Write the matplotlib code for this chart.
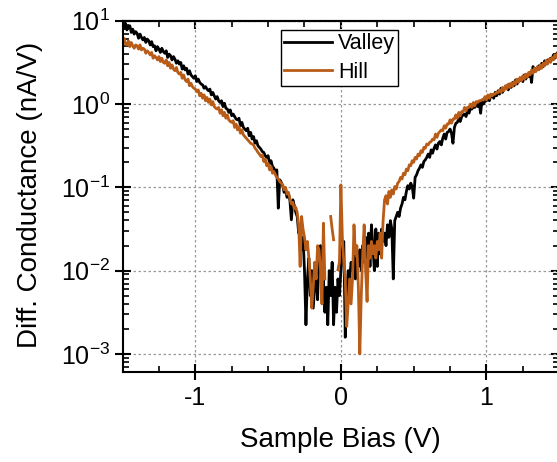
import numpy as np
import matplotlib
matplotlib.use("Agg")
import matplotlib.pyplot as plt
from matplotlib.ticker import LogLocator, MultipleLocator, NullFormatter

# ---------------- data ----------------
bias_start, bias_step = -1.50, 0.01   # sample bias grid (V)

# log10 of differential conductance (nA/V), Valley (black)
valley_log10 = [
    1.00, 0.91, 0.97, 0.89, 0.93, 0.94, 0.86, 0.90, 0.84, 0.87,      # -1.50
    0.85, 0.79, 0.84, 0.80, 0.77, 0.80, 0.74, 0.78, 0.76, 0.71,      # -1.40
    0.75, 0.69, 0.70, 0.64, 0.69, 0.66, 0.62, 0.67, 0.63, 0.61,      # -1.30
    0.64, 0.56, 0.60, 0.58, 0.53, 0.57, 0.54, 0.49, 0.52, 0.48,      # -1.20
    0.50, 0.42, 0.46, 0.41, 0.43, 0.36, 0.40, 0.35, 0.33, 0.31,      # -1.10
    0.34, 0.27, 0.30, 0.26, 0.24, 0.23, 0.19, 0.21, 0.18, 0.16,      # -1.00
    0.18, 0.11, 0.14, 0.10, 0.06, 0.09, 0.04, 0.02, 0.04, -0.03,     # -0.90
    0.01, -0.05, -0.06, -0.10, -0.07, -0.14, -0.12, -0.15, -0.18, -0.19,  # -0.80
    -0.17, -0.26, -0.22, -0.28, -0.30, -0.32, -0.29, -0.38, -0.34, -0.42,  # -0.70
    -0.39, -0.47, -0.44, -0.50, -0.52, -0.54, -0.57, -0.58, -0.62, -0.64,  # -0.60
    -0.62, -0.71, -0.68, -0.75, -0.77, -0.81, -0.79, -1.25, -0.91, -0.94,  # -0.50
    -0.98, -1.06, -1.02, -1.12, -1.08, -1.16, -1.39, -1.15, -1.22, -1.30,  # -0.40
    -1.35, -1.55, -1.45, -1.75, -1.60, -2.00, -2.65, -2.10, -1.85, -2.30,  # -0.30
    -2.00, -2.45, -2.20, -1.95, -2.35, -1.75, -1.70, -2.30, -2.10, -2.50,  # -0.20
    -2.20, -2.65, -2.00, -2.30, -1.90, -2.65, -2.20, -2.50, -2.10, -2.30,  # -0.10
    -2.00, -1.75, -1.65, -2.80, -2.30, -2.00, -2.10, -1.90, -2.00, -1.80,  # 0.00
    -2.10, -1.85, -1.95, -1.75, -2.00, -1.70, -1.90, -1.60, -1.85, -1.55,  # 0.10
    -1.95, -1.45, -1.70, -2.00, -1.50, -1.95, -1.55, -1.80, -1.50, -1.65,  # 0.20
    -1.55, -1.70, -1.45, -1.60, -1.40, -1.50, -2.10, -1.40, -1.35, -1.30,  # 0.30
    -1.35, -1.25, -1.20, -1.12, -1.15, -1.05, -0.98, -1.02, -0.95, -0.99,  # 0.40
    -1.13, -0.88, -0.85, -0.80, -0.77, -0.73, -0.76, -0.69, -0.67, -0.64,  # 0.50
    -0.60, -0.64, -0.55, -0.59, -0.53, -0.49, -0.54, -0.47, -0.45, -0.49,  # 0.60
    -0.41, -0.36, -0.42, -0.34, -0.33, -0.30, -0.35, -0.47, -0.28, -0.23,  # 0.70
    -0.22, -0.17, -0.21, -0.15, -0.13, -0.12, -0.15, -0.07, -0.11, -0.05,  # 0.80
    -0.06, -0.03, -0.04, 0.01, -0.03, 0.02, -0.11, 0.05, 0.00, 0.04,      # 0.90
    0.04, 0.07, 0.04, 0.10, 0.11, 0.07, 0.14, 0.10, 0.16, 0.12,          # 1.00
    0.19, 0.14, 0.18, 0.19, 0.22, 0.17, 0.24, 0.20, 0.26, 0.22,          # 1.10
    0.29, 0.24, 0.28, 0.28, 0.31, 0.27, 0.35, 0.30, 0.34, 0.33,          # 1.20
    0.38, 0.26, 0.45, 0.39, 0.43, 0.42, 0.46, 0.43, 0.49, 0.45,          # 1.30
    0.52, 0.48, 0.53, 0.52, 0.55, 0.53, 0.59, 0.55, 0.60, 0.62,          # 1.40
    0.64,                                                                # 1.50
]

# log10 of differential conductance (nA/V), Hill (orange); nan = gap
nan = float("nan")
hill_log10 = [
    0.73, 0.79, 0.72, 0.71, 0.76, 0.69, 0.74, 0.70, 0.67, 0.71,      # -1.50
    0.70, 0.66, 0.71, 0.65, 0.67, 0.66, 0.61, 0.64, 0.62, 0.59,      # -1.40
    0.62, 0.55, 0.58, 0.56, 0.53, 0.57, 0.51, 0.55, 0.50, 0.49,      # -1.30
    0.53, 0.46, 0.50, 0.43, 0.47, 0.42, 0.40, 0.44, 0.38, 0.36,      # -1.20
    0.38, 0.31, 0.35, 0.29, 0.27, 0.30, 0.22, 0.25, 0.21, 0.19,      # -1.10
    0.18, 0.15, 0.17, 0.10, 0.13, 0.07, 0.11, 0.04, 0.08, 0.02,      # -1.00
    0.06, -0.01, 0.03, -0.03, -0.05, -0.06, -0.04, -0.11, -0.07, -0.14,  # -0.90
    -0.10, -0.17, -0.13, -0.19, -0.21, -0.22, -0.20, -0.28, -0.24, -0.31,  # -0.80
    -0.27, -0.35, -0.31, -0.37, -0.39, -0.41, -0.43, -0.45, -0.47, -0.48,  # -0.70
    -0.49, -0.53, -0.55, -0.58, -0.60, -0.63, -0.61, -0.69, -0.66, -0.74,  # -0.60
    -0.71, -0.79, -0.75, -0.83, -0.81, -0.85, -0.88, -0.90, -0.93, -0.95,  # -0.50
    -0.97, -1.03, -1.00, -1.08, -1.06, -1.14, -1.20, -1.18, -1.26, -1.24,  # -0.40
    -1.30, -1.45, -1.95, -1.35, -1.50, -1.60, -1.75, -1.65, -1.85, -2.10,  # -0.30
    -2.45, -2.20, -1.90, -2.10, -1.70, -1.75, -2.00, -2.40, -1.43, -2.10,  # -0.20
    nan, nan, nan, -1.35, -1.50, -1.63, nan, nan, -1.99, -1.90,            # -0.10
    -0.97, -1.60, -1.90, -2.10, -2.67, -2.40, -2.10, -2.40, -2.10, -1.45,  # 0.00
    -1.80, -1.70, -2.20, -3.00, -2.30, -1.80, -1.45, -2.00, -2.37, -1.70,  # 0.10
    -1.85, -1.65, -1.80, -1.70, -1.85, -1.65, -1.75, -1.55, -1.85, -1.40,  # 0.20
    -1.15, -1.10, -1.20, -1.05, -1.12, -1.03, -1.08, -0.99, -1.02, -0.95,  # 0.30
    -0.93, -0.88, -0.90, -0.83, -0.85, -0.78, -0.80, -0.73, -0.74, -0.68,  # 0.40
    -0.70, -0.64, -0.66, -0.60, -0.62, -0.56, -0.58, -0.52, -0.53, -0.48,  # 0.50
    -0.49, -0.46, -0.45, -0.42, -0.43, -0.36, -0.40, -0.35, -0.33, -0.31,  # 0.60
    -0.32, -0.26, -0.29, -0.24, -0.24, -0.19, -0.23, -0.18, -0.18, -0.13,  # 0.70
    -0.17, -0.10, -0.14, -0.09, -0.09, -0.04, -0.08, -0.04, -0.04, 0.00,  # 0.80
    -0.04, 0.02, -0.02, 0.03, 0.02, 0.04, 0.04, 0.05, 0.05, 0.09,         # 0.90
    0.05, 0.11, 0.07, 0.12, 0.10, 0.12, 0.12, 0.14, 0.14, 0.17,          # 1.00
    0.14, 0.20, 0.16, 0.22, 0.18, 0.24, 0.20, 0.25, 0.21, 0.27,          # 1.10
    0.24, 0.30, 0.26, 0.32, 0.28, 0.34, 0.30, 0.36, 0.32, 0.38,          # 1.20
    0.35, 0.41, 0.37, 0.43, 0.39, 0.45, 0.41, 0.47, 0.43, 0.49,          # 1.30
    0.46, 0.52, 0.48, 0.54, 0.50, 0.56, 0.53, 0.59, 0.56, 0.61,          # 1.40
    0.63,                                                                # 1.50
]

series_labels = ["Valley", "Hill"]
series_colors = ["#000000", "#B85C18"]
x_ticks = [-1, 0, 1]
x_ticklabels = ["-1", "0", "1"]
x_label = "Sample Bias (V)"
y_label = "Diff. Conductance (nA/V)"

# ---------------- figure ----------------
plt.rcParams["font.family"] = ["Liberation Sans", "DejaVu Sans"]
plt.rcParams["mathtext.fontset"] = "custom"
plt.rcParams["mathtext.rm"] = "Liberation Sans"
plt.rcParams["mathtext.it"] = "Liberation Sans:italic"
plt.rcParams["mathtext.default"] = "regular"

bias = bias_start + bias_step * np.arange(len(valley_log10))
valley = 10.0 ** np.array(valley_log10)
hill = 10.0 ** np.array(hill_log10)

fig = plt.figure(figsize=(5.57, 4.62), dpi=100)
ax = fig.add_axes([0.220, 0.194, 0.784, 0.761])

ax.plot(bias, valley, color=series_colors[0], lw=2.0, label=series_labels[0])
ax.plot(bias, hill, color=series_colors[1], lw=2.0, label=series_labels[1])

ax.set_yscale("log")
ax.set_xlim(-1.5, 1.5)
ax.set_ylim(6e-4, 10)

ax.set_xticks(x_ticks)
ax.set_xticklabels(x_ticklabels)
ax.xaxis.set_minor_locator(MultipleLocator(0.25))
ax.yaxis.set_major_locator(LogLocator(base=10, numticks=10))
ax.yaxis.set_minor_locator(LogLocator(base=10, subs=np.arange(2, 10), numticks=10))
ax.yaxis.set_minor_formatter(NullFormatter())

ax.tick_params(which="major", direction="inout", length=12, width=1.5,
               labelsize=18, pad=3)
ax.tick_params(which="minor", direction="in", length=4, width=1.2)
ax.tick_params(axis="x", which="major", pad=4)

# top / right inward ticks
secx = ax.secondary_xaxis("top")
secx.set_xticks(x_ticks)
secx.xaxis.set_minor_locator(MultipleLocator(0.25))
secx.tick_params(which="major", direction="in", length=6, width=1.5, labeltop=False)
secx.tick_params(which="minor", direction="in", length=4, width=1.2)
secx.spines["top"].set_linewidth(1.5)
secy = ax.secondary_yaxis("right")
secy.set_yscale("log")
secy.yaxis.set_major_locator(LogLocator(base=10, numticks=10))
secy.yaxis.set_minor_locator(LogLocator(base=10, subs=np.arange(2, 10), numticks=10))
secy.tick_params(which="major", direction="in", length=6, width=1.5, labelright=False)
secy.tick_params(which="minor", direction="in", length=4, width=1.2, labelright=False)
secy.yaxis.set_minor_formatter(NullFormatter())

for s in ax.spines.values():
    s.set_linewidth(1.5)

ax.grid(True, which="major", color="#999999", linestyle=(0, (2, 2)), linewidth=0.9)

leg = ax.legend(loc="upper left", bbox_to_anchor=(0.363, 0.974), fontsize=15.5,
                frameon=True, fancybox=False, edgecolor="black", framealpha=1,
                handlelength=2.2, handletextpad=0.3, borderpad=0.15,
                labelspacing=0.35, borderaxespad=0)
leg.get_frame().set_linewidth(1.0)

fig.text(0.611, 0.048, x_label, ha="center", va="center", fontsize=20)
fig.text(0.054, 0.578, y_label, ha="center", va="center", rotation=90, fontsize=20)

fig.savefig("out.png", dpi=100)
